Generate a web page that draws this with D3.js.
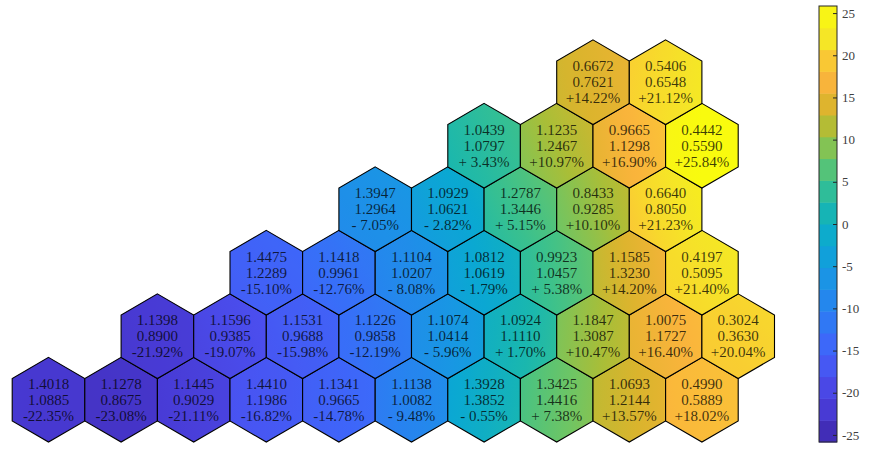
<!DOCTYPE html>
<html>
<head>
<meta charset="utf-8">
<script src="https://cdn.jsdelivr.net/npm/d3@7"></script>
<style>
  body { margin: 0; background: #fff; }
  svg text { font-family: "Liberation Serif", "Times New Roman", serif; white-space: pre; }
</style>
</head>
<body>
<div id="chart"></div>
<script>
// hex rows from bottom; first column (in half-hex steps) of each row
const rowStart = [0, 1.5, 3, 4.5, 6, 7.5];

const beforeVals = [
  [1.4018, 1.1278, 1.1445, 1.4410, 1.1341, 1.1138, 1.3928, 1.3425, 1.0693, 0.4990],
  [1.1398, 1.1596, 1.1531, 1.1226, 1.1074, 1.0924, 1.1847, 1.0075, 0.3024],
  [1.4475, 1.1418, 1.1104, 1.0812, 0.9923, 1.1585, 0.4197],
  [1.3947, 1.0929, 1.2787, 0.8433, 0.6640],
  [1.0439, 1.1235, 0.9665, 0.4442],
  [0.6672, 0.5406]
];
const afterVals = [
  [1.0885, 0.8675, 0.9029, 1.1986, 0.9665, 1.0082, 1.3852, 1.4416, 1.2144, 0.5889],
  [0.8900, 0.9385, 0.9688, 0.9858, 1.0414, 1.1110, 1.3087, 1.1727, 0.3630],
  [1.2289, 0.9961, 1.0207, 1.0619, 1.0457, 1.3230, 0.5095],
  [1.2964, 1.0621, 1.3446, 0.9285, 0.8050],
  [1.0797, 1.2467, 1.1298, 0.5590],
  [0.7621, 0.6548]
];
const pctVals = [
  [-22.35, -23.08, -21.11, -16.82, -14.78, -9.48, -0.55, 7.38, 13.57, 18.02],
  [-21.92, -19.07, -15.98, -12.19, -5.96, 1.70, 10.47, 16.40, 20.04],
  [-15.10, -12.76, -8.08, -1.79, 5.38, 14.20, 21.40],
  [-7.05, -2.82, 5.15, 10.10, 21.23],
  [3.43, 10.97, 16.90, 25.84],
  [14.22, 21.12]
];
const colorTicks = [-25, -20, -15, -10, -5, 0, 5, 10, 15, 20, 25];
const cLim = [-25.84, 25.84];

const width = 873, height = 451;

const svg = d3.select('#chart').append('svg')
  .attr('width', width)
  .attr('height', height);
const defs = svg.append('defs');

// hex grid scales
const x = d3.scaleLinear().domain([0, 9.5]).range([48.5, 738.2]);
const y = d3.scaleLinear().domain([0, 5]).range([399.7, 82.2]);

// parula-like colormap (hand matched to the picture)
const cmapVals = [-25.84, -22, -18, -14, -10, -6, -2, 2, 5, 8, 11, 14, 17, 19, 20.5, 22, 25.84];
const cmapCols = ['#3e26a8', '#483ad4', '#4b50f0', '#3c69fa', '#2882f0', '#1996e4', '#0aa8d2',
  '#19b7af', '#3cc18c', '#6ec564', '#aabe37', '#dcb42d', '#fab43c', '#fac337', '#f8d72d', '#f5e626', '#f9fb0e'];
const parula = d3.scaleLinear().domain(cmapVals).range(cmapCols).clamp(true);

const nBands = 20;
const bandColors = d3.range(nBands).map(i => parula(cLim[0] + (cLim[1] - cLim[0]) * (i + 0.5) / nBands));

const cells = [];
rowStart.forEach((s, r) => {
  beforeVals[r].forEach((b, i) => {
    cells.push({ row: r, col: s + i, before: b, after: afterVals[r][i], pct: pctVals[r][i] });
  });
});

// pointy-top hexagon in grid units
const hexPts = [[0, 2 / 3], [0.5, 1 / 3], [0.5, -1 / 3], [0, -2 / 3], [-0.5, -1 / 3], [-0.5, 1 / 3]];
const vKey = (c, r) => Math.round(c * 2) + '_' + Math.round(r * 3);

// shared vertices lean toward the mean of the hexes around them
const vertexSum = new Map();
cells.forEach(d => {
  hexPts.forEach(p => {
    const k = vKey(d.col + p[0], d.row + p[1]);
    const s = vertexSum.get(k) || { sum: 0, n: 0 };
    s.sum += d.pct; s.n += 1;
    vertexSum.set(k, s);
  });
});
const blend = 0.45;

function fmtPct(v) {
  const a = Math.abs(v);
  return (v < 0 ? '-' : '+') + (a < 10 ? ' ' : '') + a.toFixed(2) + '%';
}

cells.forEach((d, i) => {
  const cx = x(d.col), cy0 = y(d.row);
  const verts = hexPts.map(p => {
    const s = vertexSum.get(vKey(d.col + p[0], d.row + p[1]));
    return { u: x(d.col + p[0]) - cx, w: y(d.row + p[1]) - cy0, v: d.pct + blend * (s.sum / s.n - d.pct) };
  });
  const a = d.pct;
  const b = d3.sum(verts, q => (q.v - a) * q.u) / d3.sum(verts, q => q.u * q.u);
  const c = d3.sum(verts, q => (q.v - a) * q.w) / d3.sum(verts, q => q.w * q.w);
  const gl = Math.hypot(b, c) || 1e-9;
  const L = 42;
  const grad = defs.append('linearGradient')
    .attr('id', 'hg' + i)
    .attr('gradientUnits', 'userSpaceOnUse')
    .attr('x1', cx - b / gl * L).attr('y1', cy0 - c / gl * L)
    .attr('x2', cx + b / gl * L).attr('y2', cy0 + c / gl * L);
  d3.range(11).forEach(j => {
    const t = j / 10;
    grad.append('stop')
      .attr('offset', t)
      .attr('stop-color', parula(a + (2 * t - 1) * gl * L));
  });
  d.pts = verts.map(q => (cx + q.u) + ',' + (cy0 + q.w)).join(' ');
  d.fillId = 'hg' + i;
});

const g = svg.append('g').attr('class', 'hexes');

const cell = g.selectAll('g.cell')
  .data(cells)
  .enter()
  .append('g')
  .attr('class', 'cell');

cell.append('polygon')
  .attr('points', d => d.pts)
  .attr('fill', d => 'url(#' + d.fillId + ')')
  .attr('stroke', '#000')
  .attr('stroke-width', 1.1);

const lines = [d => d.before.toFixed(4), d => d.after.toFixed(4), d => fmtPct(d.pct)];
lines.forEach((fn, k) => {
  cell.append('text')
    .attr('x', d => x(d.col))
    .attr('y', d => y(d.row) + (k - 1) * 16 + 5)
    .attr('text-anchor', 'middle')
    .attr('font-size', 15)
    .attr('fill', '#000')
    .attr('fill-opacity', 0.75)
    .text(fn);
});

// colorbar
const barX = 819, barW = 18;
const cy = d3.scaleLinear().domain(cLim).range([442, 6]);
const bar = svg.append('g').attr('class', 'colorbar');

bar.selectAll('rect.band')
  .data(bandColors)
  .enter()
  .append('rect')
  .attr('class', 'band')
  .attr('x', barX)
  .attr('width', barW)
  .attr('y', (col, i) => cy(cLim[0] + (cLim[1] - cLim[0]) * (i + 1) / nBands))
  .attr('height', (col, i) => cy(cLim[0] + (cLim[1] - cLim[0]) * i / nBands) - cy(cLim[0] + (cLim[1] - cLim[0]) * (i + 1) / nBands) + 0.5)
  .attr('fill', col => col);

bar.append('rect')
  .attr('x', barX)
  .attr('y', cy(cLim[1]))
  .attr('width', barW)
  .attr('height', cy(cLim[0]) - cy(cLim[1]))
  .attr('fill', 'none')
  .attr('stroke', '#262626')
  .attr('stroke-width', 1);

const cAxis = d3.axisRight(cy).tickValues(colorTicks).tickFormat(v => String(v)).tickSize(0).tickPadding(5);
const axG = bar.append('g')
  .attr('transform', 'translate(' + (barX + barW) + ',0)')
  .call(cAxis);
axG.select('.domain').remove();
axG.selectAll('.tick text')
  .attr('font-family', '"Liberation Serif", "Times New Roman", serif')
  .attr('font-size', 13)
  .attr('fill', '#404040');
axG.selectAll('.tick')
  .append('line')
  .attr('x1', -4)
  .attr('x2', 0)
  .attr('stroke', '#262626');
</script>
</body>
</html>
